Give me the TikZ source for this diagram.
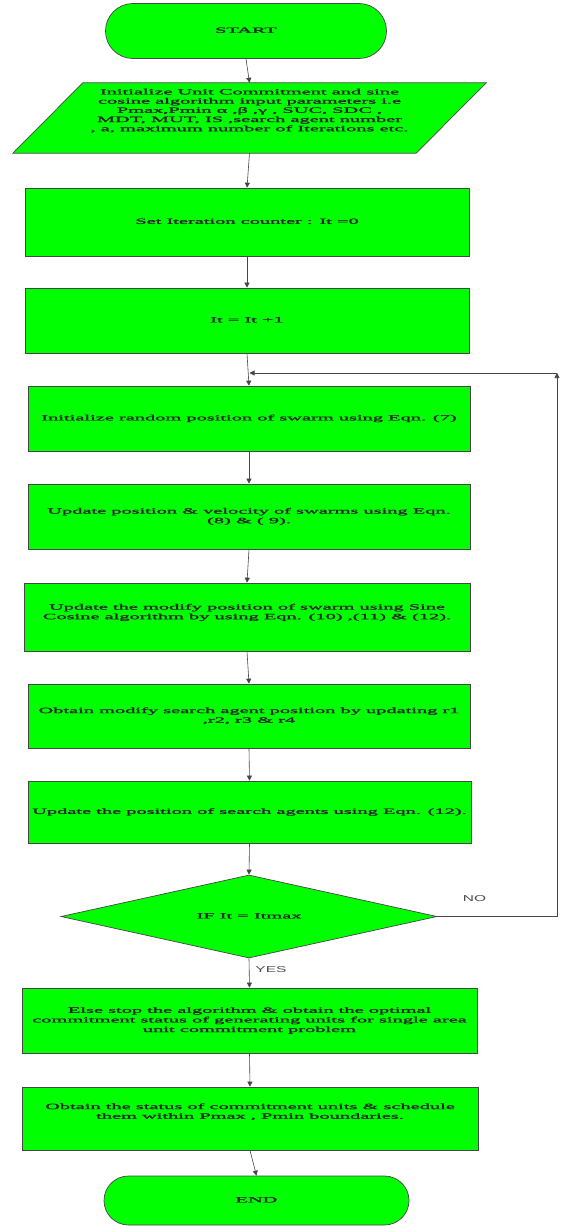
\documentclass[tikz,border=0pt]{standalone}
\usepackage{fontspec}
\setmainfont{Liberation Serif}[BoldFont={Liberation Serif}, BoldFeatures={FakeBold=1.2}]
\newfontfamily\labelfont{Liberation Sans}
\usepackage{graphicx}
\usetikzlibrary{shapes.geometric,shapes.misc,arrows.meta,backgrounds}
\definecolor{boxgreen}{RGB}{0,255,0}
\definecolor{edgegray}{RGB}{70,70,70}
\newcommand{\sqz}[2][0pt]{\raisebox{#1}[\height][\depth]{\scalebox{1}[0.4]{\begin{tabular}{@{}c@{}}#2\end{tabular}}}}
\newcommand{\sqlbl}[1]{\scalebox{1}[0.55]{#1}}
\begin{document}
\begin{tikzpicture}[x=1pt,y=-1pt,
  base/.style={draw=edgegray, line width=0.7pt, fill=boxgreen, inner sep=0pt, font=\fontsize{20.4}{24}\selectfont\bfseries, text=black!85},
  procbox/.style={base, rectangle},
  termbox/.style={base, rounded rectangle},
  decbox/.style={base, diamond, aspect=4.53},
  iotext/.style={inner sep=0pt, rectangle, font=\fontsize{20.4}{23}\selectfont\bfseries, text=black!85},
  ioshape/.style={draw=edgegray, line width=0.7pt, fill=boxgreen},
  conn/.style={draw=edgegray, line width=0.6pt, -{Triangle[length=5pt,width=5pt]}},
  lbl/.style={font=\labelfont\fontsize{15.5}{16}\selectfont, text=black!70, inner sep=0pt}
]
\useasboundingbox (0,0) rectangle (562,1226);
\begin{pgfonlayer}{background}
\fill[white] (0,0) rectangle (562,1226);
\end{pgfonlayer}

\node[termbox, minimum width=281pt, minimum height=55pt] (start) at (246,31) {\sqz{START}};

\node[iotext, minimum width=403pt, minimum height=70pt] (para) at (249.5,118)
  {\sqz[7pt]{Initialize Unit Commitment and sine\\cosine algorithm input parameters i.e\\Pmax,Pmin α ,β ,γ , SUC, SDC ,\\MDT, MUT, IS ,search agent number\\, a, maximum number of Iterations etc.}};
\begin{pgfonlayer}{background}
\draw[ioshape] ([xshift=35pt]para.north west) -- ([xshift=35pt]para.north east)
  -- ([xshift=-35pt]para.south east) -- ([xshift=-35pt]para.south west) -- cycle;
\end{pgfonlayer}

\node[procbox, minimum width=444pt, minimum height=68pt] (box1) at (247,222) {\sqz{Set Iteration counter : It =0}};
\node[procbox, minimum width=444pt, minimum height=65pt] (box2) at (247,320.5) {\sqz{It = It +1}};
\node[procbox, minimum width=442pt, minimum height=65pt] (box3) at (249,418.5) {\sqz{Initialize random position of swarm using Eqn. (7)}};
\node[procbox, minimum width=442pt, minimum height=65pt] (box4) at (249,516.5) {\sqz{Update position \& velocity of swarms using Eqn.\\(8) \& ( 9).}};
\node[procbox, minimum width=446pt, minimum height=68pt] (box5) at (247,617) {\sqz[4.5pt]{Update the modify position of swarm using Sine\\Cosine algorithm by using Eqn. (10) ,(11) \& (12).}};
\node[procbox, minimum width=442pt, minimum height=64pt] (box6) at (249,716) {\sqz{Obtain modify search agent position by updating r1\\,r2, r3 \& r4}};
\node[procbox, minimum width=443pt, minimum height=62pt] (box7) at (249.5,812) {\sqz{Update the position of search agents using Eqn. (12).}};
\node[decbox, minimum width=376pt, minimum height=83pt] (dec) at (249,916.5) {\sqz{IF It = Itmax}};
\node[procbox, minimum width=455pt, minimum height=65pt] (box8) at (249.5,1020.5) {\sqz{Else stop the algorithm \& obtain the optimal\\commitment status of generating units for single area\\unit commitment problem}};
\node[procbox, minimum width=456pt, minimum height=63pt] (box9) at (250,1118.5) {\sqz[6.5pt]{Obtain the status of commitment units \& schedule\\them within Pmax , Pmin boundaries.}};
\node[termbox, minimum width=305pt, minimum height=49pt] (endn) at (256.5,1200.5) {\sqz{END}};

\coordinate (join) at (249.5,373);
\coordinate (loopturn) at (557,916.5);
\coordinate (corner) at (557,373);

\draw[conn] (start.south) -- (para.north);
\draw[conn] (para.south) -- (box1.north);
\draw[conn] (box1.south) -- (box2.north);
\draw[conn] (box2.south) -- (box3.north);
\draw[conn] (box3.south) -- (box4.north);
\draw[conn] (box4.south) -- (box5.north);
\draw[conn] (box5.south) -- (box6.north);
\draw[conn] (box6.south) -- (box7.north);
\draw[conn] (box7.south) -- (dec.north);
\draw[conn] (dec.south) -- node[lbl, pos=0.37, anchor=west, xshift=6pt] {\sqlbl{YES}} (box8.north);
\draw[conn] (box8.south) -- (box9.north);
\draw[conn] (box9.south) -- (endn.north);
\draw[conn] (dec.east) -- node[lbl, pos=0.31, above=15pt] {\sqlbl{NO}} (loopturn) -- (corner);
\draw[conn] (corner) -- (join);
\end{tikzpicture}
\end{document}
